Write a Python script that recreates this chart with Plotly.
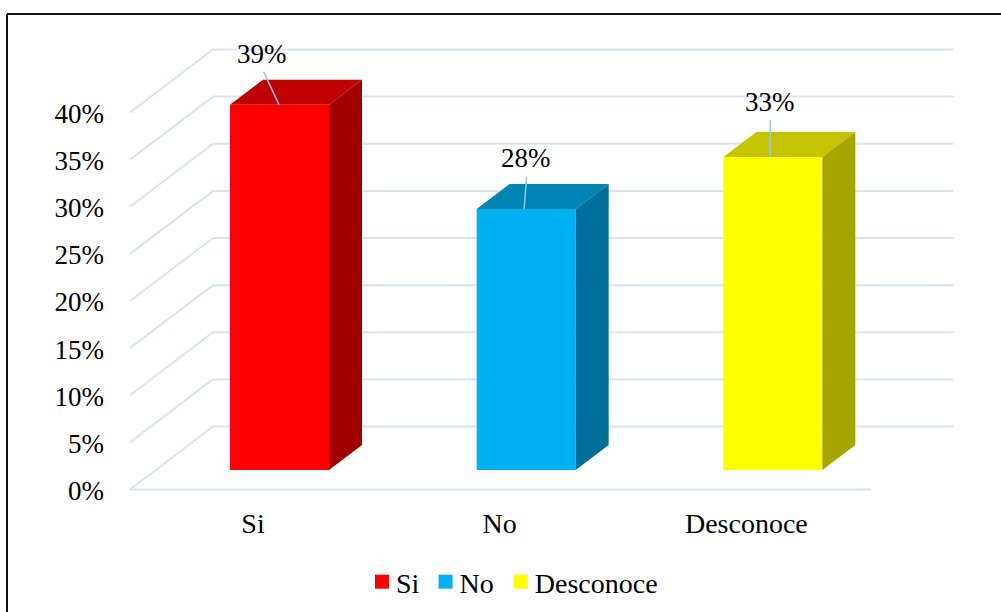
import plotly.graph_objects as go

categories = ["Si", "No", "Desconoce"]
values = [38.76, 27.7, 33.2]
front_colors = ["#FF0000", "#00B0F0", "#FFFF00"]
top_colors = ["#C00000", "#0084B4", "#C4C400"]
side_colors = ["#A00000", "#006F99", "#A6A600"]
y_ticks = [0, 5, 10, 15, 20, 25, 30, 35, 40]

W, H = 1001, 612
PL, PR, PT, PB = 120, 960, 40, 500   # plot area in pixels
X0, UX = 253.0, 246.67               # pixel of category 0, pixels per category
Y0, UY = 489.5, 9.425                # pixel of 0 %, pixels per percent
GRID = "#D9E4F3"
LEADER = "#9DC3E6"
FONT = dict(family="Liberation Serif", size=27, color="#000000")
FONT_CAT = dict(family="Liberation Serif", size=28, color="#000000")

def dx(px):
    return px / UX
def dy(px):
    return px / UY

x_range = [(PL - X0) / UX, (PR - X0) / UX]
y_range = [(Y0 - PB) / UY, (Y0 - PT) / UY]

fig = go.Figure()

wall_dx, wall_dy = dx(83), dy(63)
left = (130 - X0) / UX
right_front = (871 - X0) / UX
right_back = (953.5 - X0) / UX
shapes = []
line = dict(color=GRID, width=2)
for v in y_ticks:
    shapes.append(dict(type="line", xref="x", yref="y", layer="below", line=line,
                       x0=left, y0=v, x1=left + wall_dx, y1=v + wall_dy))
    shapes.append(dict(type="line", xref="x", yref="y", layer="below", line=line,
                       x0=left + wall_dx, y0=v + wall_dy, x1=right_back, y1=v + wall_dy))
shapes.append(dict(type="line", xref="x", yref="y", layer="below", line=line,
                   x0=left, y0=0, x1=right_front, y1=0))

# chart-area border: top and left edges only
shapes.append(dict(type="line", xref="paper", yref="paper", line=dict(color="#111111", width=2),
                   x0=(7 - PL) / (PR - PL), x1=(W - PL) / (PR - PL),
                   y0=(PB - 14) / (PB - PT), y1=(PB - 14) / (PB - PT)))
shapes.append(dict(type="line", xref="paper", yref="paper", line=dict(color="#111111", width=2),
                   x0=(7 - PL) / (PR - PL), x1=(7 - PL) / (PR - PL),
                   y0=(PB - H) / (PB - PT), y1=(PB - 14) / (PB - PT)))

bar_shift = dx(26.5)
bar_w = dx(99)
base = dy(Y0 - 470)
depth_x, depth_y = dx(33), dy(25)

leader_dx = [-15.5, 2.5, 0]
leader_start = [-0.5, -2.0, -2.5]
leader_len = [33, 32, 37]
label_ax = [-17.5, -0.5, -2.5]
label_ay = [-51, -51, -55]

annotations = []
for i, (name, v) in enumerate(zip(categories, values)):
    c = i + bar_shift
    l, r = c - bar_w / 2, c + bar_w / 2
    top = base + v
    fig.add_trace(go.Bar(x=[c], y=[v], base=[base], width=[bar_w], name=name,
                         marker=dict(color=front_colors[i], line=dict(width=0)),
                         hoverinfo="skip", showlegend=True))
    fig.add_trace(go.Scatter(
        x=[l, r, r + depth_x, l + depth_x, l], y=[top, top, top + depth_y, top + depth_y, top],
        mode="lines", fill="toself", fillcolor=top_colors[i], line=dict(width=0),
        hoverinfo="skip", showlegend=False))
    fig.add_trace(go.Scatter(
        x=[r, r + depth_x, r + depth_x, r, r],
        y=[top, top + depth_y, base + depth_y, base, top],
        mode="lines", fill="toself", fillcolor=side_colors[i], line=dict(width=0),
        hoverinfo="skip", showlegend=False))
    sx = c + dx(leader_start[i])
    fig.add_trace(go.Scatter(
        x=[sx, sx + dx(leader_dx[i])], y=[top, top + dy(leader_len[i])],
        mode="lines", line=dict(color=LEADER, width=1.5),
        hoverinfo="skip", showlegend=False))
    annotations.append(dict(x=c, y=top, xref="x", yref="y", text=f"{round(v)}%",
                            showarrow=False, xshift=label_ax[i], yshift=-label_ay[i],
                            font=FONT))

fig.update_layout(
    width=W, height=H, autosize=False,
    margin=dict(l=PL, r=W - PR, t=PT, b=H - PB, pad=0),
    paper_bgcolor="white", plot_bgcolor="rgba(0,0,0,0)",
    barmode="overlay", shapes=shapes, annotations=annotations,
    font=FONT,
    xaxis=dict(range=x_range, tickmode="array", tickvals=[0, 1, 2], ticktext=categories,
               showgrid=False, zeroline=False, showline=False, ticks="",
               ticklabelstandoff=4, tickfont=FONT_CAT, automargin=False),
    yaxis=dict(range=y_range, tickmode="array", tickvals=y_ticks,
               ticktext=[f"{v}%" for v in y_ticks],
               showgrid=False, zeroline=False, showline=False, ticks="",
               ticklabelstandoff=15, ticklabelshift=1, tickfont=FONT, automargin=False),
    legend=dict(orientation="h", xref="container", yref="container",
                x=358 / W, y=1 - 557 / H,
                xanchor="left", yanchor="top", bgcolor="rgba(0,0,0,0)", font=FONT_CAT,
                itemclick=False, itemdoubleclick=False),
)

post = """
document.body.style.margin='0';
document.documentElement.style.overflow='hidden';
(function(){
  var gd=document.getElementById('{plot_id}');
  var itemShift=[-2,-7,-11];
  function tune(){
    gd.querySelectorAll('.legend .traces').forEach(function(g,i){
      if(g.dataset.tuned){return;}
      g.dataset.tuned='1';
      var m=/translate\\(([-\\d.]+)[ ,]*([-\\d.]*)\\)/.exec(g.getAttribute('transform')||'');
      if(m){g.setAttribute('transform','translate('+(parseFloat(m[1])+itemShift[i])+','+(parseFloat(m[2])||0)+')');}
      var s=g.querySelector('.legendsymbols');
      if(s){s.setAttribute('transform','translate(6,0)');}
      g.querySelectorAll('.legendsymbols path').forEach(function(p){p.setAttribute('d','M7,7H-7V-7H7Z');});
    });
  }
  tune();
  if(gd.on){gd.on('plotly_afterplot',tune);}
})();
"""
fig.write_html("out.html", config=dict(displayModeBar=False), post_script=post)
